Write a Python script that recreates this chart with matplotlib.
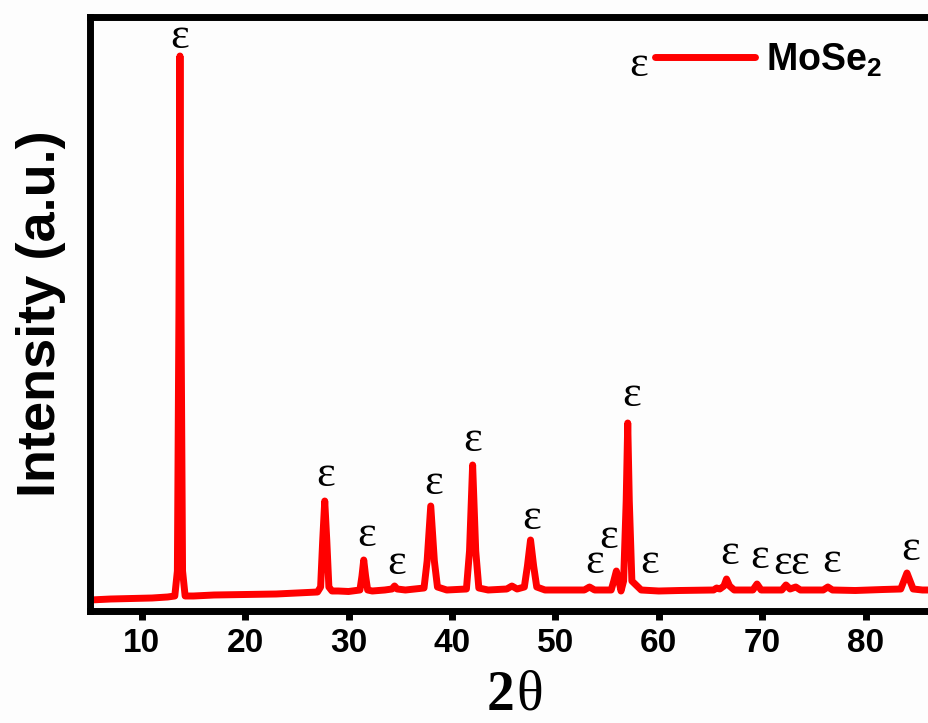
import matplotlib
matplotlib.use('Agg')
import matplotlib.pyplot as plt
from matplotlib.lines import Line2D

# traced XRD pattern (2theta, intensity in arbitrary units)
two_theta = [5.0, 7.0, 9.0, 11.0, 12.5, 13.2, 13.45, 13.6, 13.7, 13.8, 13.95, 14.2,
             15.0, 17.0, 20.0, 23.0, 25.0, 27.0, 27.3, 27.5, 27.7, 27.9, 28.1, 28.4,
             29.0, 30.0, 31.1, 31.3, 31.47, 31.65, 31.85, 32.3, 33.5, 34.2, 34.45, 34.7,
             35.5, 37.3, 37.6, 37.95, 38.3, 38.6, 39.5, 41.4, 41.7, 42.0, 42.3, 42.6,
             43.5, 45.3, 45.8, 46.3, 47.0, 47.3, 47.6, 47.9, 48.2, 49.0, 52.8, 53.3,
             53.8, 55.4, 55.65, 55.9, 56.15, 56.35, 56.6, 56.85, 57.0, 57.15, 57.4, 57.9,
             58.3, 60.0, 62.0, 65.3, 65.6, 65.9, 66.3, 66.55, 66.85, 67.3, 69.1, 69.5,
             69.9, 71.9, 72.3, 72.7, 73.25, 73.7, 75.9, 76.35, 76.8, 79.0, 81.7, 83.4,
             83.7, 84.0, 84.3, 84.6, 85.5, 87.0, 90.0]
intensity = [11, 12, 12.5, 13, 14, 15, 40, 300, 555, 300, 40, 15,
             15, 16, 16.5, 17, 18, 19, 24, 70, 110, 70, 24, 20,
             20, 19.5, 21, 35, 51, 35, 21, 20, 21, 22, 25, 22,
             21, 23, 50, 105, 50, 24, 21, 22, 60, 146, 60, 23,
             21, 22, 25, 22, 24, 45, 71, 45, 24, 21, 21, 24,
             21, 21, 30, 40, 30, 20, 30, 110, 188, 110, 30, 25,
             21, 20, 20.5, 21, 23, 22, 25, 32, 25, 21, 21, 27,
             21, 21, 26, 22, 24, 21, 21, 24, 21, 20.5, 21.5, 22,
             30, 38, 30, 22, 21, 21, 21]

# epsilon peak markers (label positions)
eps_x = [13.67, 27.8, 31.76, 34.66, 38.24, 42.01, 47.72, 53.8, 55.16, 57.39,
         59.13, 66.87, 69.77, 71.99, 73.64, 76.73, 84.37]
eps_y = [574, 136, 76, 48, 128, 171, 93, 49, 74, 216,
         49, 58, 54, 48, 48, 50, 62]

xticks = [10, 20, 30, 40, 50, 60, 70, 80]

plt.rcParams['mathtext.fontset'] = 'custom'
plt.rcParams['mathtext.rm'] = 'Liberation Sans:bold'
plt.rcParams['mathtext.bf'] = 'Liberation Sans:bold'

fig = plt.figure(figsize=(9.29, 7.23), dpi=100)
fig.patch.set_facecolor('#fdfdfd')
ax = fig.add_axes([90 / 929, 112 / 723, 879 / 929, 594.5 / 723])
ax.set_facecolor('#fdfdfd')

ax.plot(two_theta, intensity, color='#ff0000', lw=5, solid_joinstyle='round')

for x, y in zip(eps_x, eps_y):
    ax.text(x, y, 'ε', fontsize=32, family='Liberation Serif', ha='center', va='center')

ax.set_xlim(5, 90)
ax.set_ylim(0, 594.5)
ax.set_xticks(xticks)
ax.set_yticks([])
for lab in ax.get_xticklabels():
    lab.set_fontfamily('Liberation Sans')
    lab.set_fontweight('bold')
    lab.set_fontsize(24)
ax.tick_params(axis='x', direction='out', length=6.5, width=5, pad=6)

for s in ax.spines.values():
    s.set_linewidth(5)

ax.set_ylabel('Intensity (a.u.)', fontsize=39, family='Liberation Sans',
              fontweight='bold', labelpad=17)
# x label: bold "2" followed by a regular theta
fig.text(514 / 929, 1 / 723, '2', fontsize=40, family='Liberation Serif',
         fontweight='bold', ha='right', va='bottom')
fig.text(516 / 929, 1 / 723, 'θ', fontsize=40, family='Liberation Serif',
         ha='left', va='bottom')

handle = Line2D([], [], color='#ff0000', lw=5, solid_capstyle='round')
ax.legend([handle], [r'MoSe$_2$'], loc='center left',
          bbox_to_anchor=((655 - 90) / 879, 0.927), frameon=False,
          borderpad=0, borderaxespad=0, handlelength=2.67, handletextpad=0.3,
          prop={'family': 'Liberation Sans', 'weight': 'bold', 'size': 27})
ax.text((639 - 90) / 879, 0.918, 'ε', fontsize=32, family='Liberation Serif',
        ha='center', va='center', transform=ax.transAxes)

fig.savefig('out.png', dpi=100, facecolor=fig.get_facecolor())
